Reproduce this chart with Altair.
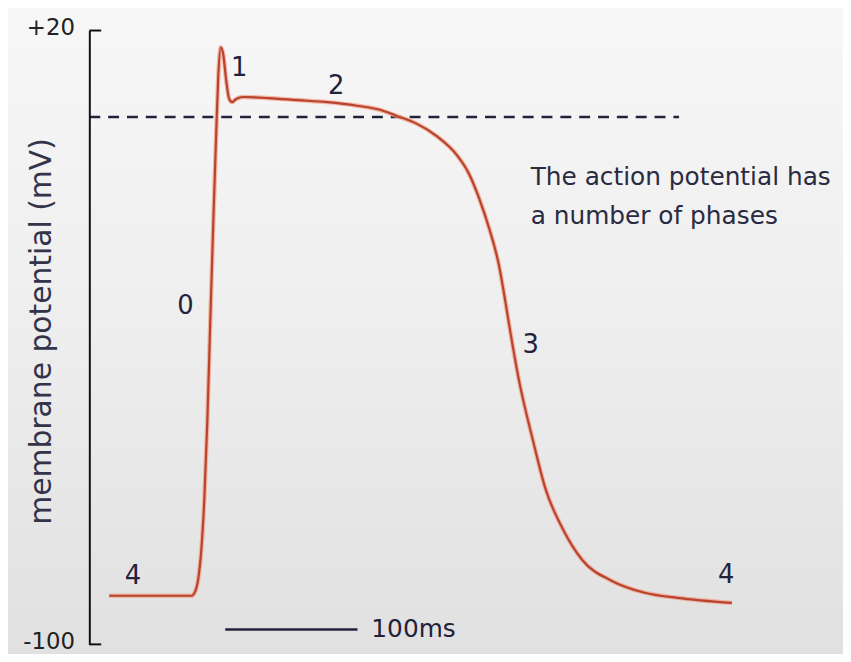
import altair as alt
import pandas as pd

# ---- data ----
time_ms = [15.0, 45.0, 77.3, 80.3, 82.5, 84.8, 87.0, 89.3, 91.5, 93.8, 96.0, 97.5, 99.4,
           101.3, 103.5, 105.8, 108.0, 111.0, 116.3, 135.0, 157.5, 180.0, 202.5, 219.8,
           232.5, 247.5, 262.5, 277.5, 287.3, 294.8, 302.3, 309.8, 313.5, 317.3, 324.8,
           335.3, 345.0, 357.8, 372.8, 395.3, 420.0, 444.8, 486.0]
potential_mv = [-90.5, -90.5, -90.5, -89.5, -87.0, -81.2, -71.5, -56.0, -36.6, -17.2, 0.2,
                10.9, 16.7, 15.3, 10.3, 6.6, 6.0, 6.6, 7.0, 6.8, 6.4, 6.0, 5.3, 4.5, 3.3,
                1.8, -0.6, -4.2, -8.1, -12.8, -18.6, -25.9, -31.2, -37.2, -48.2,
                -59.9, -69.6, -77.3, -83.5, -87.6, -89.9, -90.9, -91.9]

phase_labels = ["0", "1", "2", "3", "4", "4"]
phase_t = [72.8, 113.3, 186.8, 333.8, 33.0, 481.6]
phase_v = [-33.9, 12.6, 9.1, -41.5, -86.6, -86.4]

threshold_mv = [3.1]
threshold_t = [0, 446]

scalebar_t = [102.8, 202.8]
scalebar_v = [-97.1]
scalebar_label = ["100ms"]

note_lines = ["The action potential has", "a number of phases"]
note_t = [333.8, 333.8]
note_v = [-8.7, -16.3]

y_ticks = [20, -100]
y_tick_len_ms = 9

# ---- tables ----
curve = pd.DataFrame({"t": time_ms, "v": potential_mv})
phases = pd.DataFrame({"label": phase_labels, "t": phase_t, "v": phase_v})
thr = pd.DataFrame({"t": [threshold_t[0]], "t2": [threshold_t[1]], "v": threshold_mv})
bar = pd.DataFrame({"t": [scalebar_t[0]], "t2": [scalebar_t[1]], "v": scalebar_v,
                    "label": scalebar_label})
notes = pd.DataFrame({"text": note_lines, "t": note_t, "v": note_v})
ticks = pd.DataFrame({"t": [0] * len(y_ticks), "t2": [y_tick_len_ms] * len(y_ticks),
                      "v": y_ticks})
bg = pd.DataFrame({"k": [0]})

W, H = 760, 619
FONT = "DejaVu Sans"
INK = "#22223a"

xs = alt.Scale(domain=[0, 570], nice=False, zero=False)
ys = alt.Scale(domain=[-100, 20], nice=False, zero=False)

X = alt.X("t:Q", scale=xs, axis=None)
Y = alt.Y("v:Q", scale=ys, axis=alt.Axis(
    values=y_ticks, ticks=False, grid=False, domain=True, domainColor="#111111",
    domainWidth=2, labelFont=FONT, labelFontSize=23, labelColor="#222222",
    labelPadding=15, labelOffset=-3, zindex=2,
    labelExpr="datum.value > 0 ? '+' + format(datum.value, 'd') : '-' + format(-datum.value, 'd')",
    title="membrane potential (mV)", titleFont=FONT, titleFontSize=30,
    titleFontWeight="normal", titleColor="#33334a", titleAngle=-90,
    titleAlign="center", titleBaseline="middle", titleX=-48, titleY=303))

background = alt.Chart(bg).mark_rect(
    clip=False,
    color=alt.LinearGradient(
        gradient="linear", x1=0, y1=0, x2=0, y2=1,
        stops=[alt.GradientStop(color="#f7f7f7", offset=0),
               alt.GradientStop(color="#efefef", offset=0.45),
               alt.GradientStop(color="#e0e0e0", offset=1)])
).encode(x=alt.value(-90), x2=alt.value(W + 20), y=alt.value(-30), y2=alt.value(H + 20))

axis_layer = alt.Chart(curve).mark_point(opacity=0).encode(x=X, y=Y)

tick_layer = alt.Chart(ticks).mark_rule(color="#111111", strokeWidth=2).encode(
    x=alt.X("t:Q", scale=xs, axis=None), x2="t2:Q", y=alt.Y("v:Q", scale=ys))

thr_layer = alt.Chart(thr).mark_rule(color=INK, strokeWidth=2.5, strokeDash=[11, 8]).encode(
    x=alt.X("t:Q", scale=xs, axis=None), x2="t2:Q", y=alt.Y("v:Q", scale=ys))

halo = alt.Chart(curve).mark_line(color="#f2a08c", strokeWidth=4.5, opacity=0.75,
                                  interpolate="monotone").encode(
    x=alt.X("t:Q", scale=xs, axis=None), y=alt.Y("v:Q", scale=ys), order="t:Q")
line = alt.Chart(curve).mark_line(color="#b8442e", strokeWidth=2.2,
                                  interpolate="monotone").encode(
    x=alt.X("t:Q", scale=xs, axis=None), y=alt.Y("v:Q", scale=ys), order="t:Q")

phase_text = alt.Chart(phases).mark_text(font=FONT, fontSize=26, color=INK,
                                         align="center", baseline="middle").encode(
    x=alt.X("t:Q", scale=xs, axis=None), y=alt.Y("v:Q", scale=ys), text="label:N")

bar_rule = alt.Chart(bar).mark_rule(color=INK, strokeWidth=2.5).encode(
    x=alt.X("t:Q", scale=xs, axis=None), x2="t2:Q", y=alt.Y("v:Q", scale=ys))
bar_text = alt.Chart(bar).mark_text(font=FONT, fontSize=25, color=INK, align="left",
                                    baseline="middle", dx=14).encode(
    x=alt.X("t2:Q", scale=xs, axis=None), y=alt.Y("v:Q", scale=ys), text="label:N")

note_text = alt.Chart(notes).mark_text(font=FONT, fontSize=25, color="#2a2a40",
                                       align="left", baseline="middle").encode(
    x=alt.X("t:Q", scale=xs, axis=None), y=alt.Y("v:Q", scale=ys), text="text:N")

chart = alt.layer(
    background, axis_layer, tick_layer, thr_layer, halo, line, phase_text,
    bar_rule, bar_text, note_text
).properties(
    width=W, height=H,
    autosize=alt.AutoSizeParams(type="none"),
    padding={"left": 82, "top": 20, "right": 0, "bottom": 7},
    background="#e9e9e9",
).configure_view(stroke=None)

chart.save("out.html", embed_options={"renderer": "svg", "actions": False})
